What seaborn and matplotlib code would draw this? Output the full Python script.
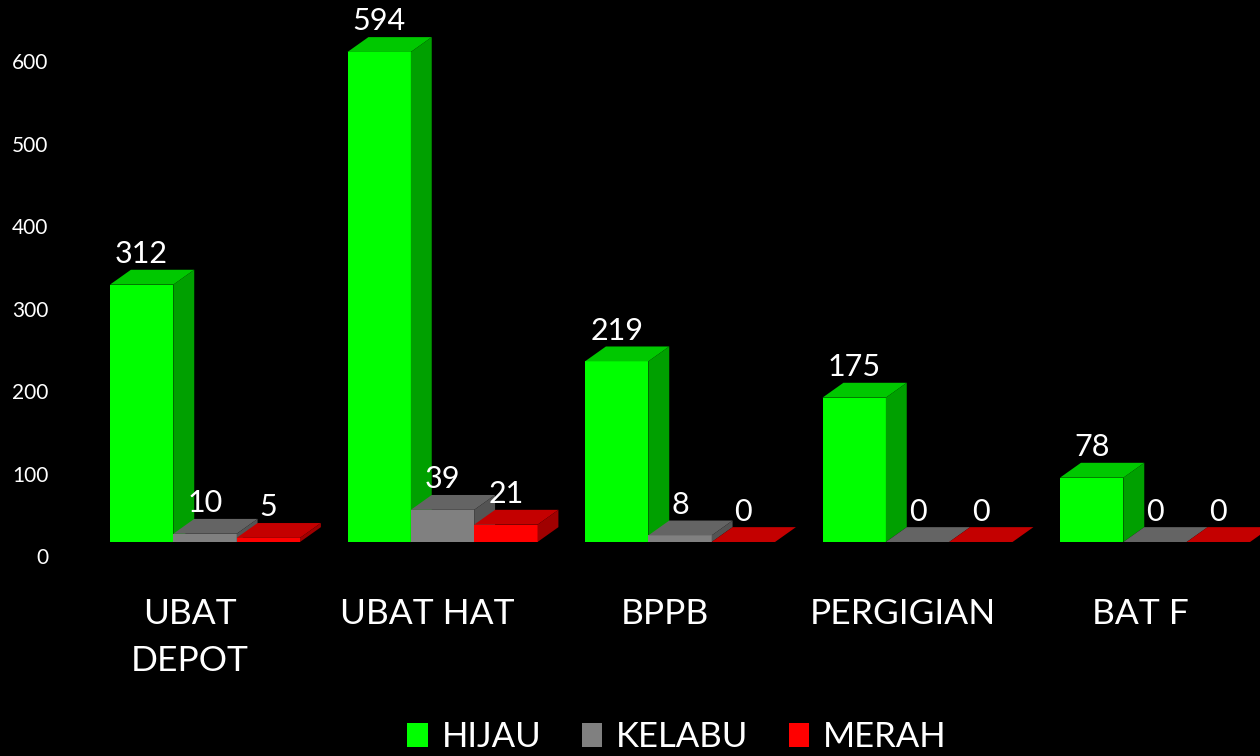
import pandas as pd
import matplotlib.pyplot as plt
import matplotlib.transforms as mtransforms
from matplotlib.patches import Polygon, Patch
import seaborn as sns

kategori = ["UBAT\nDEPOT", "UBAT HAT", "BPPB", "PERGIGIAN", "BAT F"]
status = ["HIJAU", "KELABU", "MERAH"]
hijau = [312, 594, 219, 175, 78]
kelabu = [10, 39, 8, 0, 0]
merah = [5, 21, 0, 0, 0]

warna_depan = {"HIJAU": "#00ff00", "KELABU": "#808080", "MERAH": "#ff0000"}
warna_atas = {"HIJAU": "#00c800", "KELABU": "#646464", "MERAH": "#c40000"}
warna_sisi = {"HIJAU": "#00a000", "KELABU": "#545454", "MERAH": "#a00000"}

rows = []
for i, k in enumerate(kategori):
    for s, vals in zip(status, [hijau, kelabu, merah]):
        rows.append({"kategori": k, "status": s, "nilai": vals[i]})
df = pd.DataFrame(rows)

sns.set_theme(style="dark")
plt.rcParams["font.family"] = ["Lato", "DejaVu Sans"]

fig = plt.figure(figsize=(12.6, 7.56), dpi=100, facecolor="black")
ax = fig.add_axes([60 / 1260, (756 - 542) / 756, 1200 / 1260, 542 / 756])
ax.set_facecolor("black")

sns.barplot(data=df, x="kategori", y="nilai", hue="status", palette=warna_depan,
            width=0.8, saturation=1, linewidth=0, errorbar=None, legend=False, ax=ax)

# pseudo 3d depth
dx, dy = 0.088, 18
for z, (cont, s) in enumerate(zip(ax.containers, status)):
    for bar in cont:
        x0, w, h = bar.get_x(), bar.get_width(), bar.get_height()
        bar.set_zorder(3 + z)
        ax.add_patch(Polygon([(x0, h), (x0 + w, h), (x0 + w + dx, h + dy), (x0 + dx, h + dy)],
                             closed=True, facecolor=warna_atas[s], edgecolor="none", zorder=3 + z))
        ax.add_patch(Polygon([(x0 + w, 0), (x0 + w + dx, dy), (x0 + w + dx, h + dy), (x0 + w, h)],
                             closed=True, facecolor=warna_sisi[s], edgecolor="none", zorder=3 + z))
        ax.text(x0 + w / 2, h + dy + 2, f"{int(h)}", ha="center", va="bottom",
                color="white", fontsize=22, zorder=10)

ax.set_xlim(-0.6105, 4.442)
ax.set_ylim(0, 657)
ax.set_xlabel("")
ax.set_ylabel("")
ax.grid(False)
for sp in ax.spines.values():
    sp.set_visible(False)

ax.set_yticks(range(0, 601, 100))
ax.tick_params(axis="y", length=0, pad=8.5, labelsize=15, labelcolor="white")
ax.tick_params(axis="x", length=0, pad=40, labelsize=25.5, labelcolor="white")

geser_y = mtransforms.ScaledTranslation(0, -14 / 100, fig.dpi_scale_trans)
for lbl in ax.get_yticklabels():
    lbl.set_transform(lbl.get_transform() + geser_y)
geser_x = mtransforms.ScaledTranslation(-15 / 100, 0, fig.dpi_scale_trans)
for lbl in ax.get_xticklabels():
    lbl.set_transform(lbl.get_transform() + geser_x)
    lbl.set_linespacing(1.6)

handles = [Patch(facecolor=warna_depan[s], edgecolor="none") for s in status]
fig.legend(handles, status, loc="center", bbox_to_anchor=(677 / 1260, 1 - 737 / 756),
           ncol=3, frameon=False, fontsize=25, labelcolor="white",
           handlelength=0.6, handleheight=0.7, handletextpad=0.4, columnspacing=1.15,
           borderpad=0.2)

fig.savefig("out.png", dpi=100, facecolor="black")
